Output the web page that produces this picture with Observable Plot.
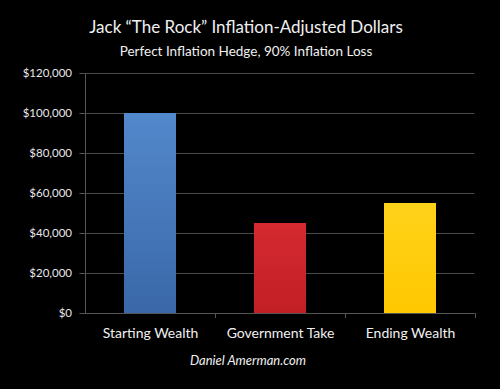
<!DOCTYPE html>
<html>
<head>
<meta charset="utf-8">
<script src="https://cdn.jsdelivr.net/npm/d3@7"></script>
<script src="https://cdn.jsdelivr.net/npm/@observablehq/plot@0.6"></script>
<style>
  html, body { margin: 0; padding: 0; background: #000; }
  body { width: 500px; height: 389px; overflow: hidden; font-family: Lato, "Open Sans", sans-serif; color: #f0f0f0; position: relative; }
  .title { position: absolute; top: 17px; width: 500px; left: -4px; text-align: center; font-size: 17px; line-height: 20px; }
  .subtitle { position: absolute; top: 43px; width: 500px; left: -4px; text-align: center; font-size: 13.5px; line-height: 16px; }
  #chart { position: absolute; top: 62px; left: 0; }
  .caption { position: absolute; top: 352px; width: 500px; left: -2px; text-align: center; font-size: 13px; font-style: italic; }
</style>
</head>
<body>
<div class="title">Jack “The Rock” Inflation-Adjusted Dollars</div>
<div class="subtitle">Perfect Inflation Hedge, 90% Inflation Loss</div>
<div id="chart"></div>
<div class="caption">Daniel Amerman.com</div>
<script>
const categories = ["Starting Wealth", "Government Take", "Ending Wealth"];
const values = [100000, 45000, 55000];
const barColors = ["url(#gBlue)", "url(#gRed)", "url(#gYellow)"];
const yTicks = [0, 20000, 40000, 60000, 80000, 100000, 120000];

const data = categories.map((c, i) => ({category: c, value: values[i]}));
const fmt = d => "$" + d3.format(",")(d);

const plot = Plot.plot({
  width: 500,
  height: 285,
  marginTop: 11,
  marginBottom: 34,
  marginLeft: 84.5,
  marginRight: 25.5,
  style: {background: "#000", color: "#e8e8e8", fontFamily: "Lato, 'Open Sans', sans-serif", overflow: "visible"},
  x: {domain: categories, paddingInner: 0.6, paddingOuter: 0.3, label: null},
  y: {domain: [0, 120000], label: null},
  color: {domain: categories, range: barColors},
  marks: [
    Plot.ruleY(yTicks, {stroke: "#4a4a4a", strokeWidth: 1.2}),
    Plot.barY(data, {x: "category", y: "value", fill: "category"}),
    Plot.axisY({ticks: yTicks, tickFormat: fmt, tickSize: 5, tickPadding: 8, stroke: "#555", fontSize: 11.5, fill: "#e8e8e8"}),
    Plot.axisX({tickSize: 0, tickPadding: 15, fontSize: 14, fill: "#f0f0f0"}),
    Plot.ruleX([categories[0]], {y1: 0, y2: 120000, dx: -65, stroke: "#555"}),
    Plot.ruleX(categories, {y1: 0, y2: -2500, dx: 65, stroke: "#555"}),
    Plot.ruleY([0], {stroke: "#555", strokeWidth: 1.2})
  ]
});

// gradients for bar fills
const defs = d3.select(plot).insert("defs", ":first-child");
const grads = [
  ["gBlue", "#5288cc", "#3a68a8"],
  ["gRed", "#d42a30", "#c21f25"],
  ["gYellow", "#ffd21a", "#ffc800"]
];
grads.forEach(([id, top, bottom]) => {
  const g = defs.append("linearGradient").attr("id", id).attr("x1", 0).attr("y1", 0).attr("x2", 0).attr("y2", 1);
  g.append("stop").attr("offset", "0%").attr("stop-color", top);
  g.append("stop").attr("offset", "100%").attr("stop-color", bottom);
});

document.getElementById("chart").appendChild(plot);
</script>
</body>
</html>
